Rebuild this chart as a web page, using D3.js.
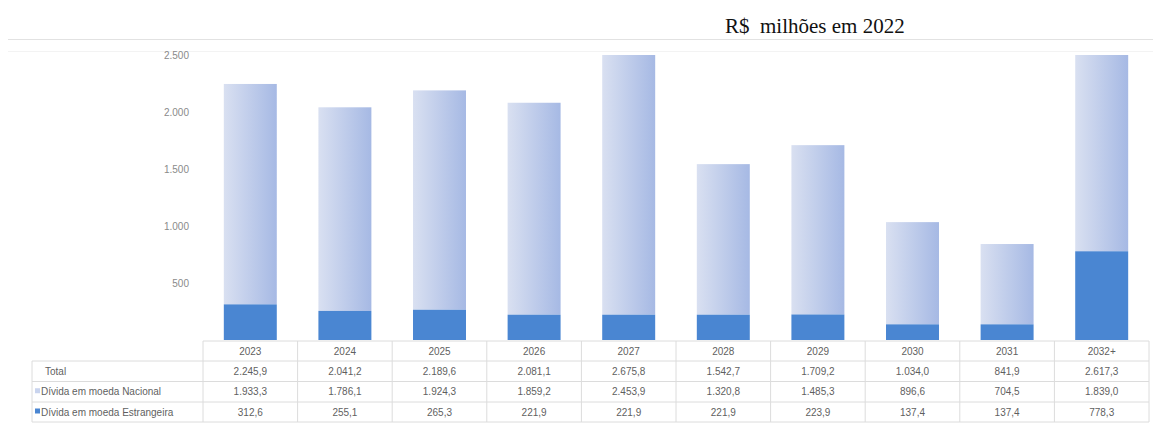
<html>
<head>
<meta charset="utf-8">
<script src="https://d3js.org/d3.v7.min.js"></script>
<style>
body { margin: 0; background: #fff; }
</style>
</head>
<body>
<svg id="svg" width="1153" height="426"></svg>
<script>
'use strict';

const years = ['2023', '2024', '2025', '2026', '2027', '2028', '2029', '2030', '2031', '2032+'];
const total = [2245.9, 2041.2, 2189.6, 2081.1, 2675.8, 1542.7, 1709.2, 1034.0, 841.9, 2617.3];
const nacional = [1933.3, 1786.1, 1924.3, 1859.2, 2453.9, 1320.8, 1485.3, 896.6, 704.5, 1839.0];
const estrangeira = [312.6, 255.1, 265.3, 221.9, 221.9, 221.9, 223.9, 137.4, 137.4, 778.3];
const yTicks = [500, 1000, 1500, 2000, 2500];
const rowNames = ['Total', 'Dívida em moeda Nacional', 'Dívida em moeda Estrangeira'];
const title = 'R$  milhões em 2022';

const ptBR = d3.formatLocale({decimal: ',', thousands: '.', grouping: [3], currency: ['R$', '']});
const fmt1 = ptBR.format(',.1f');
const fmt0 = ptBR.format(',.0f');

const svg = d3.select('#svg');
const textColor = '#5f5f5f';
const gridColor = '#dcdcdc';
const darkBlue = '#4a86d2';

// gradient for the national debt bars
const defs = svg.append('defs');
const grad = defs.append('linearGradient').attr('id', 'lightGrad')
	.attr('x1', '0%').attr('x2', '100%').attr('y1', '0%').attr('y2', '0%');
grad.append('stop').attr('offset', '0%').attr('stop-color', '#d9e0f1');
grad.append('stop').attr('offset', '100%').attr('stop-color', '#a6b9e4');

// title and separator lines
svg.append('text')
	.attr('x', 725).attr('y', 33)
	.attr('font-family', '"Liberation Serif", "Times New Roman", serif')
	.attr('font-size', 21)
	.attr('fill', '#111')
	.style('white-space', 'pre')
	.text(title);
svg.append('line').attr('x1', 8).attr('x2', 1153).attr('y1', 39.5).attr('y2', 39.5)
	.attr('stroke', '#e2e2e2').attr('stroke-width', 1.2);
svg.append('line').attr('x1', 8).attr('x2', 1153).attr('y1', 51.5).attr('y2', 51.5)
	.attr('stroke', '#f3f3f3');

const x = d3.scaleBand().domain(years).range([203, 1149]).paddingInner(0).paddingOuter(0);
const y = d3.scaleLinear().domain([0, 2500]).range([340, 55]).clamp(true);
const barW = x.bandwidth() * 0.56;

// y axis labels
const yAxis = d3.axisLeft(y).tickValues(yTicks).tickFormat(fmt0).tickSize(0).tickPadding(0);
const ga = svg.append('g').attr('transform', 'translate(189,0)').call(yAxis);
ga.select('.domain').remove();
ga.selectAll('text')
	.attr('font-family', '"Liberation Sans", Arial, sans-serif')
	.attr('font-size', 10)
	.attr('fill', '#8a8a8a');

// bars
const bars = svg.append('g');
bars.selectAll('rect.nac')
	.data(years)
	.join('rect')
	.attr('class', 'nac')
	.attr('x', (d) => x(d) + (x.bandwidth() - barW) / 2)
	.attr('width', barW)
	.attr('y', (d, i) => y(total[i]))
	.attr('height', (d, i) => y(estrangeira[i]) - y(total[i]))
	.attr('fill', 'url(#lightGrad)');
bars.selectAll('rect.est')
	.data(years)
	.join('rect')
	.attr('class', 'est')
	.attr('x', (d) => x(d) + (x.bandwidth() - barW) / 2)
	.attr('width', barW)
	.attr('y', (d, i) => y(estrangeira[i]))
	.attr('height', (d, i) => y(0) - y(estrangeira[i]))
	.attr('fill', darkBlue);

// data table
const rowTop = [341, 361, 381.5, 402, 422];
const table = svg.append('g');
const font = '"Liberation Sans", Arial, sans-serif';

// horizontal lines
table.append('line').attr('x1', 203).attr('x2', 1149).attr('y1', rowTop[0]).attr('y2', rowTop[0])
	.attr('stroke', gridColor);
for (let r = 1; r < rowTop.length; r++) {
	table.append('line').attr('x1', 32).attr('x2', 1149).attr('y1', rowTop[r]).attr('y2', rowTop[r])
		.attr('stroke', gridColor);
}
// vertical lines
table.append('line').attr('x1', 32).attr('x2', 32).attr('y1', rowTop[1]).attr('y2', rowTop[4])
	.attr('stroke', gridColor);
table.selectAll('line.v')
	.data(years)
	.join('line')
	.attr('class', 'v')
	.attr('x1', (d) => x(d)).attr('x2', (d) => x(d))
	.attr('y1', rowTop[0]).attr('y2', rowTop[4])
	.attr('stroke', gridColor);
table.append('line').attr('x1', 1149).attr('x2', 1149).attr('y1', rowTop[0]).attr('y2', rowTop[4])
	.attr('stroke', gridColor);

// header years
table.selectAll('text.yr')
	.data(years)
	.join('text')
	.attr('class', 'yr')
	.attr('x', (d) => x(d) + x.bandwidth() / 2)
	.attr('y', (rowTop[0] + rowTop[1]) / 2 + 3.5)
	.attr('text-anchor', 'middle')
	.attr('font-family', font).attr('font-size', 10)
	.attr('fill', textColor)
	.text((d) => d);

const rows = [total, nacional, estrangeira];
rows.forEach((vals, r) => {
	const cy = (rowTop[r + 1] + rowTop[r + 2]) / 2 + 3.5;
	table.selectAll('text.r' + r)
		.data(vals)
		.join('text')
		.attr('class', 'r' + r)
		.attr('x', (d, i) => x(years[i]) + x.bandwidth() / 2)
		.attr('y', cy)
		.attr('text-anchor', 'middle')
		.attr('font-family', font).attr('font-size', 10)
		.attr('fill', textColor)
		.text((d) => fmt1(d));
	const lx = r === 0 ? 45 : 41;
	table.append('text')
		.attr('x', lx).attr('y', cy)
		.attr('font-family', font).attr('font-size', 10)
		.attr('fill', textColor)
		.text(rowNames[r]);
	if (r > 0) {
		table.append('rect')
			.attr('x', 35).attr('y', cy - 7)
			.attr('width', 5).attr('height', 5)
			.attr('fill', r === 1 ? '#c9d4ee' : darkBlue);
	}
});
</script>
</body>
</html>
